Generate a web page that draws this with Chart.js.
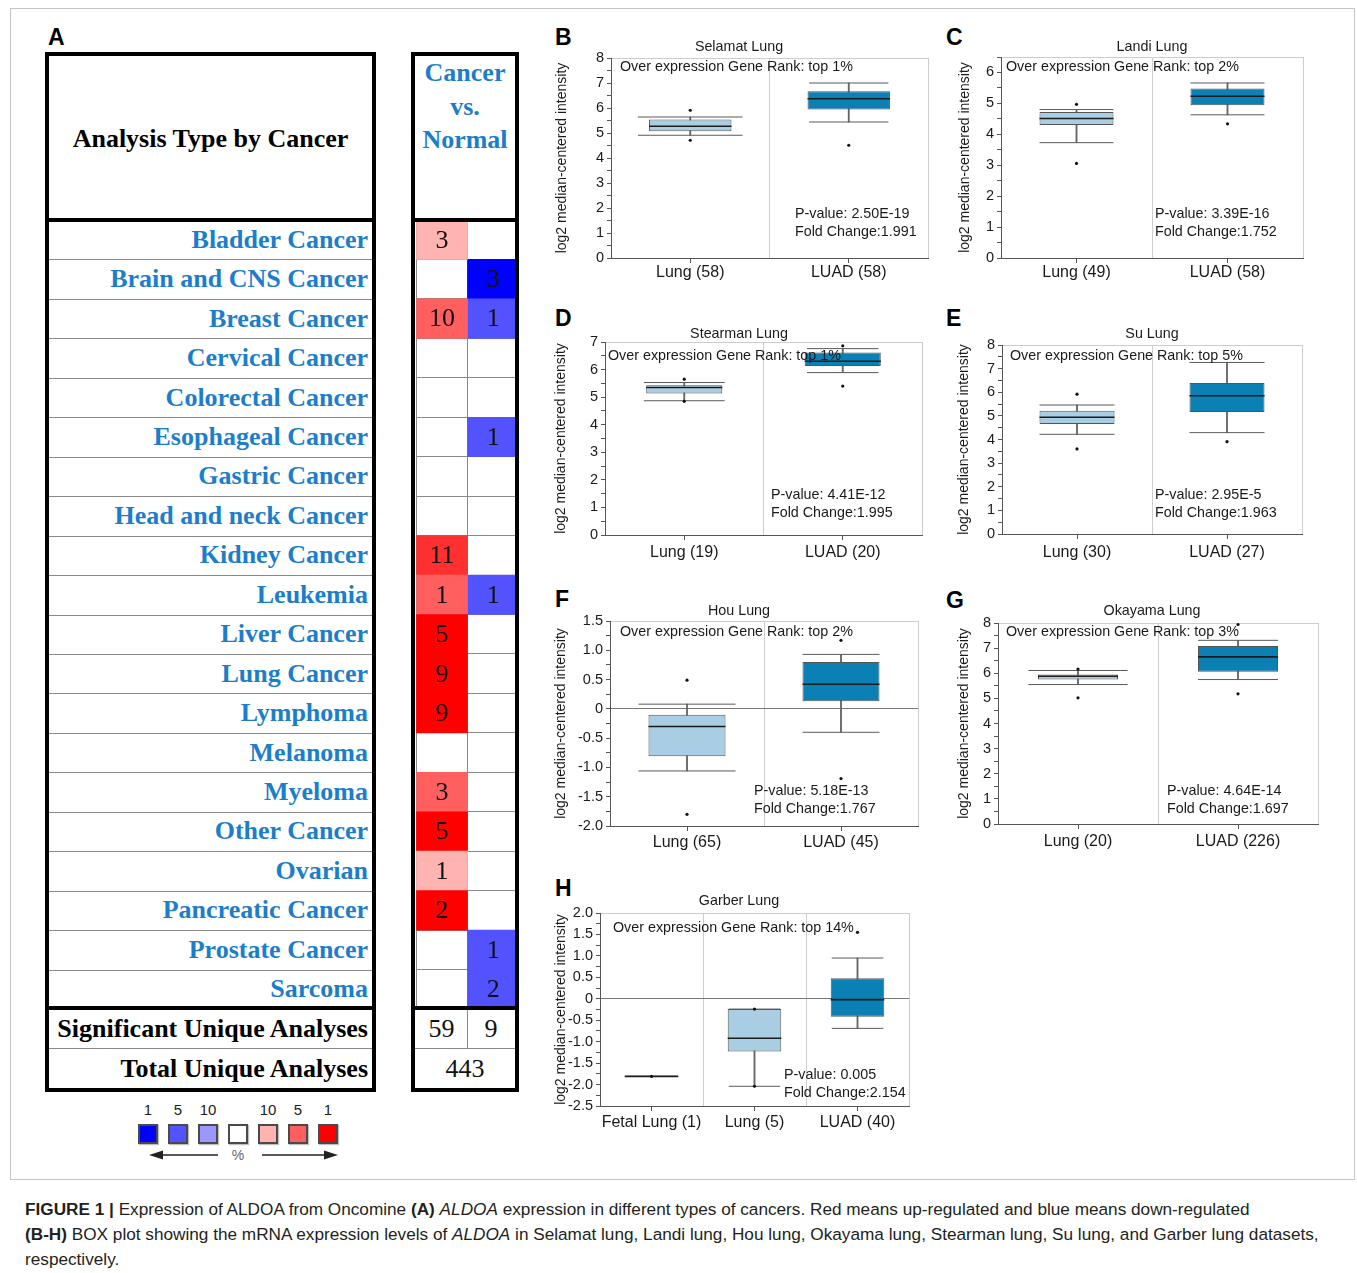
<!DOCTYPE html>
<html>
<head>
<meta charset="utf-8">
<title>ALDOA expression in Oncomine</title>
<script src="https://cdn.jsdelivr.net/npm/chart.js@4.4.1/dist/chart.umd.min.js"></script>
<style>
  html, body { margin: 0; padding: 0; background: #fff; }
  #fig { position: relative; width: 1357px; height: 1273px; overflow: hidden; background: #fff;
         font-family: "Liberation Sans", Arial, sans-serif; color: #111; }
  #fig canvas { position: absolute; }
</style>
</head>
<body>
<div id="fig"></div>
<script>
// ---------- Panel A: number of analyses per cancer type ----------
const cancerTypes = ['Bladder Cancer', 'Brain and CNS Cancer', 'Breast Cancer', 'Cervical Cancer',
  'Colorectal Cancer', 'Esophageal Cancer', 'Gastric Cancer', 'Head and neck Cancer', 'Kidney Cancer',
  'Leukemia', 'Liver Cancer', 'Lung Cancer', 'Lymphoma', 'Melanoma', 'Myeloma', 'Other Cancer',
  'Ovarian', 'Pancreatic Cancer', 'Prostate Cancer', 'Sarcoma'];
const upCounts   = [3, null, 10, null, null, null, null, null, 11, 1, 5, 9, 9, null, 3, 5, 1, 2, null, null];
const upRank     = [10, null, 5, null, null, null, null, null, 3, 5, 1, 1, 1, null, 5, 1, 10, 1, null, null];
const downCounts = [null, 3, 1, null, null, 1, null, null, null, 1, null, null, null, null, null, null, null, null, 1, 2];
const downRank   = [null, 1, 5, null, null, 5, null, null, null, 5, null, null, null, null, null, null, null, null, 5, 5];
const significantAnalyses = [59, 9];
const totalAnalyses = 443;
const legendRanks = [1, 5, 10];

// ---------- Panels B-H: box plot statistics ----------
const datasetNames = ['Selamat Lung', 'Landi Lung', 'Stearman Lung', 'Su Lung', 'Hou Lung', 'Okayama Lung', 'Garber Lung'];
const geneRanks   = ['1%', '2%', '1%', '5%', '2%', '3%', '14%'];
const pValues     = ['2.50E-19', '3.39E-16', '4.41E-12', '2.95E-5', '5.18E-13', '4.64E-14', '0.005'];
const foldChanges = ['1.991', '1.752', '1.995', '1.963', '1.767', '1.697', '2.154'];

const selamatGroups = ['Lung (58)', 'LUAD (58)'];
const selamatLow    = [4.91, 5.44];
const selamatQ1     = [5.07, 5.94];
const selamatMedian = [5.27, 6.37];
const selamatQ3     = [5.54, 6.67];
const selamatHigh   = [5.64, 7.00];
const selamatPoints = [[5.91, 4.71], [4.51]];

const landiGroups = ['Lung (49)', 'LUAD (58)'];
const landiLow    = [3.73, 4.63];
const landiQ1     = [4.30, 4.94];
const landiMedian = [4.51, 5.23];
const landiQ3     = [4.72, 5.48];
const landiHigh   = [4.80, 5.66];
const landiPoints = [[4.97, 3.06], [4.34]];

const stearmanGroups = ['Lung (19)', 'LUAD (20)'];
const stearmanLow    = [4.87, 5.89];
const stearmanQ1     = [5.13, 6.13];
const stearmanMedian = [5.35, 6.30];
const stearmanQ3     = [5.43, 6.62];
const stearmanHigh   = [5.53, 6.76];
const stearmanPoints = [[5.65, 4.85], [6.86, 5.40]];

const suGroups = ['Lung (30)', 'LUAD (27)'];
const suLow    = [4.22, 4.29];
const suQ1     = [4.66, 5.16];
const suMedian = [4.94, 5.85];
const suQ3     = [5.22, 6.39];
const suHigh   = [5.46, 7.26];
const suPoints = [[5.92, 3.60], [3.91]];

const houGroups = ['Lung (65)', 'LUAD (45)'];
const houLow    = [-1.06, -0.40];
const houQ1     = [-0.81, 0.13];
const houMedian = [-0.30, 0.42];
const houQ3     = [-0.10, 0.80];
const houHigh   = [0.08, 0.93];
const houPoints = [[0.49, -1.80], [1.17, -1.19]];

const okayamaGroups = ['Lung (20)', 'LUAD (226)'];
const okayamaLow    = [5.55, 5.75];
const okayamaQ1     = [5.75, 6.06];
const okayamaMedian = [5.88, 6.65];
const okayamaQ3     = [5.95, 7.08];
const okayamaHigh   = [6.11, 7.31];
const okayamaPoints = [[6.17, 5.02], [7.94, 5.18]];

const garberGroups = ['Fetal Lung (1)', 'Lung (5)', 'LUAD (40)'];
const garberLow    = [-1.81, -2.04, -0.69];
const garberQ1     = [-1.81, -1.23, -0.42];
const garberMedian = [-1.81, -0.92, -0.02];
const garberQ3     = [-1.81, -0.24, 0.48];
const garberHigh   = [-1.81, -0.24, 0.95];
const garberPoints = [[-1.81], [-0.24, -2.04], [1.55]];

// ---------- helpers ----------
Chart.defaults.font.family = '"Liberation Sans", Arial, sans-serif';
const SANS = '"Liberation Sans", Arial, sans-serif';
const SERIF = '"Liberation Serif", "Times New Roman", serif';
const LABEL_BLUE = '#1c7ecb';
const fig = document.getElementById('fig');

function el(tag, css, html) {
  const e = document.createElement(tag);
  e.style.cssText = 'position:absolute;' + css;
  if (html !== undefined) e.innerHTML = html;
  fig.appendChild(e);
  return e;
}

// colour scale for gene rank thresholds (top 1% / 5% / 10%)
function rankColor(rank, up) {
  const stops = up
    ? [[1, [255, 0, 0]], [5, [255, 95, 95]], [10, [255, 180, 178]]]
    : [[1, [0, 0, 255]], [5, [82, 82, 255]], [10, [152, 152, 255]]];
  let a = stops[0], b = stops[1];
  if (rank > stops[1][0]) { a = stops[1]; b = stops[2]; }
  const t = Math.max(0, Math.min(1, (rank - a[0]) / (b[0] - a[0])));
  const c = a[1].map((v, i) => Math.round(v + (b[1][i] - v) * t));
  return `rgb(${c[0]},${c[1]},${c[2]})`;
}

// outer figure frame
el('div', 'left:10px;top:8px;width:1345px;height:1172px;border:1px solid #c4c4c4;box-sizing:border-box;');

// ---------- Panel A ----------
el('div', `left:48px;top:26px;font:bold 23px ${SANS};line-height:23px;color:#000;`, 'A');

const rowTop = 220, gridH = 789, rowH = gridH / cancerTypes.length;
const upColumn = 0, downColumn = 1;

const cellCanvas = document.createElement('canvas');
cellCanvas.width = 103; cellCanvas.height = gridH;
cellCanvas.style.left = '416px'; cellCanvas.style.top = rowTop + 'px';
fig.appendChild(cellCanvas);

const countLabels = {
  id: 'countLabels',
  afterDraw(chart) {
    const ctx = chart.ctx;
    ctx.save();
    ctx.font = `26px ${SERIF}`;
    ctx.fillStyle = '#111';
    ctx.textAlign = 'center';
    ctx.textBaseline = 'middle';
    chart.data.datasets.forEach((ds, di) => {
      chart.getDatasetMeta(di).data.forEach((bar, i) => {
        const c = ds.counts[i];
        if (c == null) return;
        const pt = bar.getCenterPoint();
        ctx.fillText(String(c), pt.x, pt.y + 1);
      });
    });
    ctx.restore();
  }
};

new Chart(cellCanvas, {
  type: 'bar',
  data: {
    labels: cancerTypes,
    datasets: [
      { label: 'up', counts: upCounts,
        data: upCounts.map(c => c == null ? null : [upColumn, upColumn + 1]),
        backgroundColor: upRank.map(r => r == null ? 'rgba(0,0,0,0)' : rankColor(r, true)) },
      { label: 'down', counts: downCounts,
        data: downCounts.map(c => c == null ? null : [downColumn, downColumn + 1]),
        backgroundColor: downRank.map(r => r == null ? 'rgba(0,0,0,0)' : rankColor(r, false)) }
    ]
  },
  options: {
    indexAxis: 'y', responsive: false, animation: false, events: [],
    layout: { padding: 0 },
    datasets: { bar: { grouped: false, barPercentage: 1, categoryPercentage: 1, borderWidth: 0 } },
    plugins: { legend: { display: false }, tooltip: { enabled: false } },
    scales: {
      x: { type: 'linear', min: 0, max: 2, z: 1,
           ticks: { display: false, stepSize: 1 },
           grid: { color: '#8a8a8a', drawTicks: false },
           border: { display: false },
           afterFit: s => { s.height = 0; } },
      y: { type: 'category', offset: true, z: 1,
           ticks: { display: false },
           grid: { offset: true, color: '#8a8a8a', drawTicks: false },
           border: { display: false },
           afterFit: s => { s.width = 0; } }
    }
  },
  plugins: [countLabels]
});

// row labels and separators of the left table
cancerTypes.forEach((name, i) => {
  const top = rowTop + i * rowH;
  el('div', `left:49px;top:${top}px;width:319px;height:${rowH}px;display:flex;align-items:center;justify-content:flex-end;` +
            `font:bold 26px ${SERIF};color:${LABEL_BLUE};white-space:nowrap;`, name);
  if (i > 0) el('div', `left:49px;top:${Math.round(top)}px;width:323px;height:1px;background:#8a8a8a;`);
});

// header texts
el('div', `left:49px;top:60px;width:323px;height:158px;display:flex;align-items:center;justify-content:center;` +
          `font:bold 26px ${SERIF};color:#000;white-space:nowrap;`, 'Analysis Type by Cancer');
el('div', `left:415px;top:56px;width:100px;text-align:center;font:bold 26px ${SERIF};color:${LABEL_BLUE};line-height:33.5px;`,
   'Cancer<br>vs.<br>Normal');

// summary rows
el('div', `left:49px;top:1010px;width:319px;height:38px;display:flex;align-items:center;justify-content:flex-end;` +
          `font:bold 26px ${SERIF};color:#000;white-space:nowrap;`, 'Significant Unique Analyses');
el('div', `left:49px;top:1049px;width:319px;height:39px;display:flex;align-items:center;justify-content:flex-end;` +
          `font:bold 26px ${SERIF};color:#000;white-space:nowrap;`, 'Total Unique Analyses');
el('div', `left:416px;top:1010px;width:51px;height:38px;display:flex;align-items:center;justify-content:center;font:26px ${SERIF};color:#111;`,
   String(significantAnalyses[0]));
el('div', `left:467px;top:1010px;width:48px;height:38px;display:flex;align-items:center;justify-content:center;font:26px ${SERIF};color:#111;`,
   String(significantAnalyses[1]));
el('div', `left:416px;top:1049px;width:98px;height:39px;display:flex;align-items:center;justify-content:center;font:26px ${SERIF};color:#111;`,
   String(totalAnalyses));
el('div', 'left:49px;top:1048px;width:323px;height:1px;background:#8a8a8a;');
el('div', 'left:415px;top:1048px;width:100px;height:1px;background:#8a8a8a;');
el('div', 'left:467px;top:1009px;width:1px;height:39px;background:#8a8a8a;');

// thick frames
el('div', 'left:45px;top:52px;width:331px;height:1040px;border:4px solid #000;box-sizing:border-box;z-index:3;');
el('div', 'left:411px;top:52px;width:108px;height:1040px;border:4px solid #000;box-sizing:border-box;z-index:3;');
el('div', 'left:45px;top:218px;width:331px;height:4px;background:#000;z-index:3;');
el('div', 'left:411px;top:218px;width:108px;height:4px;background:#000;z-index:3;');
el('div', 'left:45px;top:1006px;width:331px;height:4px;background:#000;z-index:3;');
el('div', 'left:411px;top:1006px;width:108px;height:4px;background:#000;z-index:3;');

// colour legend: blue (down) ranks, blank, red (up) ranks
const legendSwatches = [
  ...legendRanks.map(r => ({ rank: r, color: rankColor(r, false) })),
  { rank: null, color: '#fff' },
  ...legendRanks.slice().reverse().map(r => ({ rank: r, color: rankColor(r, true) }))
];
legendSwatches.forEach((s, i) => {
  const cx = 148 + i * 30;
  el('div', `left:${cx - 10}px;top:1124px;width:20px;height:20px;box-sizing:border-box;border:2px solid #4a4a4a;background:${s.color};` +
            'box-shadow:1px 1px 1px rgba(0,0,0,0.25);');
  if (s.rank != null)
    el('div', `left:${cx - 20}px;top:1102px;width:40px;text-align:center;font:15px ${SANS};line-height:16px;color:#222;`, String(s.rank));
});
el('div', 'left:140px;top:1145px;width:210px;height:20px;',
   '<svg width="210" height="20" xmlns="http://www.w3.org/2000/svg">' +
   '<line x1="78" y1="10" x2="20" y2="10" stroke="#222" stroke-width="1.6"/>' +
   '<polygon points="9,10 23,5.5 23,14.5" fill="#222"/>' +
   '<line x1="122" y1="10" x2="186" y2="10" stroke="#222" stroke-width="1.6"/>' +
   '<polygon points="198,10 184,5.5 184,14.5" fill="#222"/>' +
   '<text x="98" y="15" text-anchor="middle" font-family="Liberation Sans, Arial" font-size="14" fill="#666">%</text>' +
   '</svg>');

// ---------- Panels B-H ----------
const panelData = [
  { groups: selamatGroups, low: selamatLow, q1: selamatQ1, median: selamatMedian, q3: selamatQ3, high: selamatHigh, points: selamatPoints },
  { groups: landiGroups, low: landiLow, q1: landiQ1, median: landiMedian, q3: landiQ3, high: landiHigh, points: landiPoints },
  { groups: stearmanGroups, low: stearmanLow, q1: stearmanQ1, median: stearmanMedian, q3: stearmanQ3, high: stearmanHigh, points: stearmanPoints },
  { groups: suGroups, low: suLow, q1: suQ1, median: suMedian, q3: suQ3, high: suHigh, points: suPoints },
  { groups: houGroups, low: houLow, q1: houQ1, median: houMedian, q3: houQ3, high: houHigh, points: houPoints },
  { groups: okayamaGroups, low: okayamaLow, q1: okayamaQ1, median: okayamaMedian, q3: okayamaQ3, high: okayamaHigh, points: okayamaPoints },
  { groups: garberGroups, low: garberLow, q1: garberQ1, median: garberMedian, q3: garberQ3, high: garberHigh, points: garberPoints }
];

// plot frames (page pixels) and axis settings of each panel
const panelLayout = [
  { letter: 'B', lx: 555, ly: 37, area: { L: 611, R: 928, T: 58, B: 258 }, canvasX: 550, titleX: 739, titleY: 47,
    yMin: 0, yMax: 8, step: 0.5, labelStep: 1, decimals: 0, zeroLine: false,
    rankAt: [9, 9.5], pAt: [184, -43.5], xPad: 0, boxFrac: 0.52, capFrac: [0.66, 0.5] },
  { letter: 'C', lx: 946, ly: 37, area: { L: 1001, R: 1303, T: 57, B: 258 }, canvasX: 953, titleX: 1152, titleY: 47,
    yMin: 0, yMax: 6.5, step: 0.5, labelStep: 1, decimals: 0, zeroLine: false,
    rankAt: [5, 10], pAt: [154, -43.5], xPad: 0, boxFrac: 0.49, capFrac: [0.49, 0.49] },
  { letter: 'D', lx: 555, ly: 318, area: { L: 605, R: 922, T: 342, B: 535 }, canvasX: 549, titleX: 739, titleY: 334,
    yMin: 0, yMax: 7, step: 0.5, labelStep: 1, decimals: 0, zeroLine: false,
    rankAt: [3, 14], pAt: [166, -40], xPad: 3, boxFrac: 0.48, capFrac: [0.51, 0.45] },
  { letter: 'E', lx: 946, ly: 318, area: { L: 1002, R: 1302, T: 345, B: 534 }, canvasX: 952, titleX: 1152, titleY: 334,
    yMin: 0, yMax: 8, step: 0.5, labelStep: 1, decimals: 0, zeroLine: false,
    rankAt: [8, 11], pAt: [153, -39], xPad: 4, boxFrac: 0.5, capFrac: [0.5, 0.5] },
  { letter: 'F', lx: 555, ly: 599, area: { L: 610, R: 918, T: 621, B: 826 }, canvasX: 549, titleX: 739, titleY: 611,
    yMin: -2, yMax: 1.5, step: 0.25, labelStep: 0.5, decimals: 1, zeroLine: true,
    rankAt: [10, 11], pAt: [144, -35], xPad: 2, boxFrac: 0.5, capFrac: [0.63, 0.5] },
  { letter: 'G', lx: 946, ly: 600, area: { L: 998, R: 1318, T: 623, B: 824 }, canvasX: 952, titleX: 1152, titleY: 611,
    yMin: 0, yMax: 8, step: 0.5, labelStep: 1, decimals: 0, zeroLine: false,
    rankAt: [8, 9], pAt: [169, -33], xPad: 3, boxFrac: 0.5, capFrac: [0.62, 0.5] },
  { letter: 'H', lx: 555, ly: 888, area: { L: 600, R: 909, T: 913, B: 1106 }, canvasX: 549, titleX: 739, titleY: 901,
    yMin: -2.5, yMax: 2, step: 0.25, labelStep: 0.5, decimals: 1, zeroLine: true,
    rankAt: [13, 15], pAt: [184, -31], xPad: 2, boxFrac: 0.52, capFrac: [0.48, 0.5, 0.5] }
];

const PAD_TOP = 28, PAD_RIGHT = 10, X_AXIS_H = 35;

function boxPanel(idx) {
  const d = panelData[idx], L = panelLayout[idx];
  const n = d.groups.length;
  const cx = L.canvasX, cy = L.area.T - PAD_TOP;
  const w = L.area.R + PAD_RIGHT - cx, h = L.area.B - cy + X_AXIS_H;

  el('div', `left:${L.lx}px;top:${L.ly - 11}px;font:bold 23px ${SANS};line-height:23px;color:#000;`, L.letter);

  const cv = document.createElement('canvas');
  cv.width = w; cv.height = h;
  cv.style.left = cx + 'px'; cv.style.top = cy + 'px';
  fig.appendChild(cv);

  const catW = chart => { const a = chart.chartArea; return a ? (a.right - a.left) / n : 0; };
  const capRadius = ctx => catW(ctx.chart) * L.capFrac[ctx.dataIndex] / 2;
  const medRadius = ctx => catW(ctx.chart) * L.boxFrac / 2;
  const fills = d.groups.map(g => g.startsWith('LUAD') ? '#0b80b4' : '#a9cde2');
  const pts = [];
  d.points.forEach((arr, i) => arr.forEach(v => pts.push({ x: d.groups[i], y: v })));

  const notes = {
    id: 'notes',
    afterDraw(chart) {
      const ctx = chart.ctx, a = chart.chartArea;
      ctx.save();
      ctx.fillStyle = '#1a1a1a';
      ctx.font = `14.3px ${SANS}`;
      ctx.textBaseline = 'middle';
      ctx.textAlign = 'center';
      ctx.fillText(datasetNames[idx], L.titleX - cx, L.titleY - cy);
      ctx.textAlign = 'left';
      ctx.fillText('Over expression Gene Rank: top ' + geneRanks[idx], a.left + L.rankAt[0], a.top + L.rankAt[1]);
      ctx.fillText('P-value: ' + pValues[idx], a.left + L.pAt[0], a.bottom + L.pAt[1]);
      ctx.fillText('Fold Change:' + foldChanges[idx], a.left + L.pAt[0], a.bottom + L.pAt[1] + 18);
      ctx.restore();
    }
  };

  new Chart(cv, {
    type: 'bar',
    data: {
      labels: d.groups,
      datasets: [
        { label: 'whisker', xAxisID: 'x', yAxisID: 'y', order: 5, grouped: false,
          data: d.groups.map((g, i) => [d.low[i], d.high[i]]),
          backgroundColor: '#666', barThickness: 1.2 },
        { label: 'box', xAxisID: 'x', yAxisID: 'y', order: 4, grouped: false,
          data: d.groups.map((g, i) => [d.q1[i], d.q3[i]]),
          backgroundColor: fills, borderColor: '#555', borderWidth: 1, borderSkipped: false,
          barPercentage: L.boxFrac, categoryPercentage: 1 },
        { type: 'line', label: 'upper cap', xAxisID: 'x', yAxisID: 'y', order: 3, data: d.high, showLine: false,
          pointStyle: 'line', pointRadius: capRadius, pointBorderColor: '#5a5a5a', pointBorderWidth: 1 },
        { type: 'line', label: 'lower cap', xAxisID: 'x', yAxisID: 'y', order: 3, data: d.low, showLine: false,
          pointStyle: 'line', pointRadius: capRadius, pointBorderColor: '#5a5a5a', pointBorderWidth: 1 },
        { type: 'line', label: 'median', xAxisID: 'x', yAxisID: 'y', order: 2, data: d.median, showLine: false,
          pointStyle: 'line', pointRadius: medRadius, pointBorderColor: '#1c1c1c', pointBorderWidth: 1.6 },
        { type: 'line', label: 'samples', xAxisID: 'x', yAxisID: 'y', order: 1, data: pts, showLine: false, clip: false,
          pointStyle: 'circle', pointRadius: 1.6, pointBackgroundColor: '#111', pointBorderColor: '#111', pointBorderWidth: 0 }
      ]
    },
    options: {
      responsive: false, animation: false, events: [],
      layout: { padding: { top: PAD_TOP, right: PAD_RIGHT, left: 0, bottom: 0 } },
      plugins: { legend: { display: false }, tooltip: { enabled: false }, title: { display: false } },
      scales: {
        x: { type: 'category', offset: true, position: 'bottom',
             grid: { offset: false, drawOnChartArea: false, drawTicks: true, tickLength: 5, tickColor: '#555' },
             border: { display: true, color: '#555', z: 1 },
             ticks: { color: '#1a1a1a', font: { size: 16 }, padding: L.xPad, maxRotation: 0, autoSkip: false },
             afterFit: s => { s.height = X_AXIS_H; } },
        x2: { type: 'category', labels: d.groups, position: 'top', offset: true,
              grid: { offset: true, color: '#cdcdcd', drawTicks: false },
              border: { display: true, color: '#cdcdcd' },
              ticks: { display: false },
              afterFit: s => { s.height = 0; } },
        y: { type: 'linear', min: L.yMin, max: L.yMax, position: 'left',
             ticks: { stepSize: L.step, color: '#1a1a1a', font: { size: 14.5 }, padding: 3, autoSkip: false,
                      callback: v => {
                        const k = v / L.labelStep;
                        if (Math.abs(k - Math.round(k)) > 1e-6) return '';
                        return Math.abs(v) < 1e-9 ? '0' : v.toFixed(L.decimals);
                      } },
             grid: { drawOnChartArea: L.zeroLine, tickLength: 4, tickColor: '#555',
                     color: ctx => (ctx.tick && Math.abs(ctx.tick.value) < 1e-9) ? '#777' : 'rgba(0,0,0,0)' },
             border: { display: true, color: '#555', z: 1 },
             title: { display: true, text: 'log2 median-centered intensity', color: '#1a1a1a',
                      font: { size: 14 }, padding: { top: 4, bottom: 0 } },
             afterFit: s => { s.width = L.area.L - cx; } }
      }
    },
    plugins: [notes]
  });
}
panelData.forEach((d, i) => boxPanel(i));

// ---------- caption ----------
el('div', `left:25px;top:1197px;font:17.2px ${SANS};line-height:25px;white-space:nowrap;color:#231f20;`,
  '<b>FIGURE 1 |</b> Expression of ALDOA from Oncomine <b>(A)</b> <i>ALDOA</i> expression in different types of cancers. ' +
  'Red means up-regulated and blue means down-regulated<br>' +
  '<b>(B-H)</b> BOX plot showing the mRNA expression levels of <i>ALDOA</i> in Selamat lung, Landi lung, Hou lung, ' +
  'Okayama lung, Stearman lung, Su lung, and Garber lung datasets,<br>respectively.');
</script>
</body>
</html>
